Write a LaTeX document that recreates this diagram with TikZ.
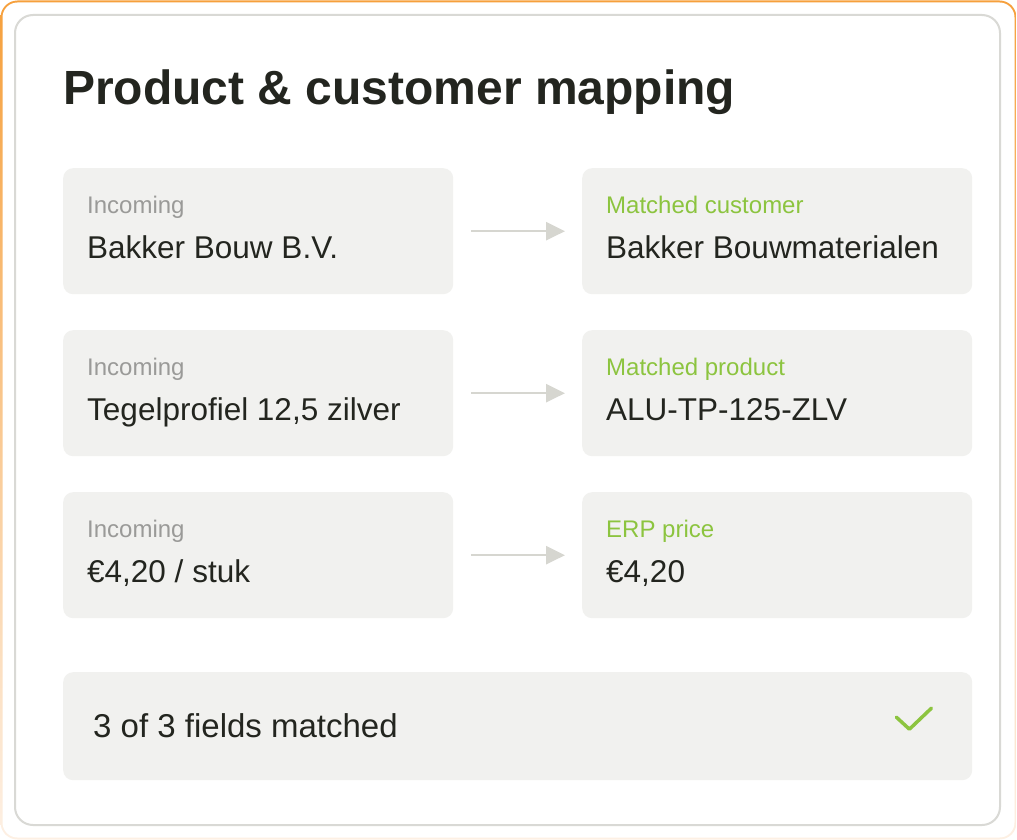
\documentclass[tikz,border=0pt]{standalone}
\usepackage{fontspec}
\setmainfont{Liberation Sans}
\usetikzlibrary{arrows.meta,calc,positioning}
\definecolor{inkdark}{HTML}{23251F}
\definecolor{labelgray}{HTML}{9A9A98}
\definecolor{matchgreen}{HTML}{8CC43F}
\definecolor{boxfill}{HTML}{F1F1EF}
\definecolor{cardline}{HTML}{D9D9D5}
\definecolor{arrowgray}{HTML}{D6D6D0}
\definecolor{frametop}{HTML}{F6A03C}
\definecolor{framebottom}{HTML}{FDF0E4}

\begin{document}
\begin{tikzpicture}[x=1pt,y=-1pt,
  fieldbox/.style={fill=boxfill,rounded corners=10pt,minimum width=390pt,minimum height=126pt,anchor=north west,inner sep=0pt},
  fieldlabel/.style={anchor=base west,inner sep=0pt,font=\fontsize{24}{28}\selectfont},
  fieldvalue/.style={anchor=base west,inner sep=0pt,text=inkdark,font=\fontsize{31.5}{36}\selectfont},
  maparrow/.style={draw=arrowgray,line width=2.5pt,-{Triangle[length=19pt,width=18pt]},shorten <=18pt,shorten >=17pt}]
\useasboundingbox (0,0) rectangle (1017,840);
%Rahmen aussen, oben orange und nach unten blass
\shade[top color=frametop,bottom color=framebottom,rounded corners=17pt] (0.5,0.5) rectangle (1016.5,839.5);
\fill[white,rounded corners=15pt] (2.5,2.5) rectangle (1014.5,837.5);
\draw[cardline,line width=2pt,fill=white,rounded corners=18pt] (15,15) rectangle (1000,825);
\node[anchor=base west,inner sep=0pt,text=inkdark,font=\fontsize{48}{56}\selectfont\bfseries] (title) at (63,105) {Product \& customer mapping};
%drei Zeilen: eingehend -> zugeordnet
\foreach \i/\inval/\outlabel/\outval in {1/{Bakker Bouw B.V.}/{Matched customer}/{Bakker Bouwmaterialen},2/{Tegelprofiel 12,5 zilver}/{Matched product}/{ALU-TP-125-ZLV},3/{€4,20 / stuk}/{ERP price}/{€4,20}}{
  \pgfmathsetmacro{\rowy}{168+162*(\i-1)}
  \node[fieldbox] (in\i) at (63,\rowy) {};
  \node[fieldbox] (out\i) at (582,\rowy) {};
  \node[fieldlabel,text=labelgray] (inlabel\i) at ($(in\i.north west)+(24,45)$) {Incoming};
  \node[fieldvalue] (invalue\i) at ($(in\i.north west)+(24,90)$) {\inval};
  \node[fieldlabel,text=matchgreen] (outlabel\i) at ($(out\i.north west)+(24,45)$) {\outlabel};
  \node[fieldvalue] (outvalue\i) at ($(out\i.north west)+(24,90)$) {\outval};
  \draw[maparrow] (in\i) -- (out\i);
}
\node[fieldbox,minimum width=909pt,minimum height=108pt] (summary) at (63,672) {};
\node[fieldvalue,font=\fontsize{33}{38}\selectfont] (summarytext) at ($(summary.north west)+(30,65)$) {3 of 3 fields matched};
\draw[matchgreen,line width=3.5pt,line cap=round,line join=round] ($(summary.east)+(-76,-9)$) -- ($(summary.east)+(-63,3)$) -- ($(summary.east)+(-41,-18)$);
\end{tikzpicture}
\end{document}
